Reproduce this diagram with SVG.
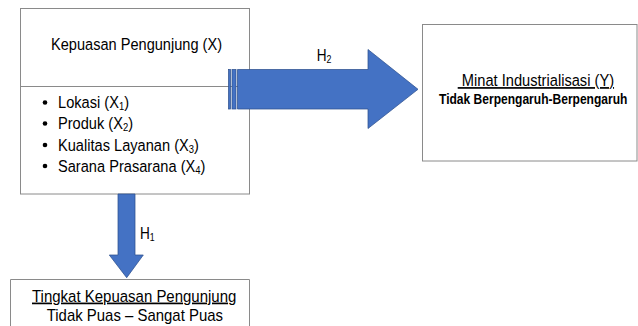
<svg xmlns="http://www.w3.org/2000/svg" width="638" height="326" viewBox="0 0 638 326">
<style>
.box{fill:#fff;stroke:#8a8a8a;stroke-width:1}
.t{font-family:"Liberation Sans",Arial,sans-serif;font-size:17px;fill:#000}
.b{font-weight:bold;font-size:14px}
.u{text-decoration:underline}
.arr{fill:#4472C4;stroke:#2F528F;stroke-width:0.75}
.sub{font-size:11px}
</style>
<rect width="638" height="326" fill="#fff"/>
<g id="node-x">
  <rect class="box" x="20.5" y="8.5" width="229" height="185.5"/>
  <line x1="20.5" y1="86.5" x2="249.5" y2="86.5" stroke="#8a8a8a" stroke-width="1"/>
  <text class="t" transform="translate(51,50) scale(0.858,1)">Kepuasan Pengunjung (X)</text>
  <circle cx="45" cy="102.5" r="2.3" fill="#000"/>
  <circle cx="45" cy="123.5" r="2.3" fill="#000"/>
  <circle cx="45" cy="145" r="2.3" fill="#000"/>
  <circle cx="45" cy="166" r="2.3" fill="#000"/>
  <text class="t" transform="translate(58,108) scale(0.86,1)">Lokasi (X<tspan class="sub" dy="2">1</tspan><tspan dy="-2">)</tspan></text>
  <text class="t" transform="translate(58,129) scale(0.86,1)">Produk (X<tspan class="sub" dy="2">2</tspan><tspan dy="-2">)</tspan></text>
  <text class="t" transform="translate(58,150.5) scale(0.86,1)">Kualitas Layanan (X<tspan class="sub" dy="2">3</tspan><tspan dy="-2">)</tspan></text>
  <text class="t" transform="translate(58,171.5) scale(0.86,1)">Sarana Prasarana (X<tspan class="sub" dy="2">4</tspan><tspan dy="-2">)</tspan></text>
</g>
<g id="node-y">
  <rect class="box" x="422.5" y="24.5" width="214.5" height="136.5"/>
  <text class="t u" transform="translate(457.7,86) scale(0.863,1)" xml:space="preserve">&#160;Minat Industrialisasi (Y)</text>
  <text class="t b" transform="translate(439,104) scale(0.861,1)">Tidak Berpengaruh-Berpengaruh</text>
</g>
<g id="node-tingkat">
  <path class="box" d="M10.5,330 V279.5 H249.5 V330"/>
  <text class="t u" transform="translate(32,301.5) scale(0.882,1)">Tingkat Kepuasan Pengunjung</text>
  <text class="t" transform="translate(46.7,320.5) scale(0.879,1)">Tidak Puas – Sangat Puas</text>
</g>
<g id="connectors">
  <g id="h2">
    <rect class="arr" x="228.5" y="69.5" width="2" height="39.5"/>
    <rect class="arr" x="232" y="69.5" width="4" height="39.5"/>
    <polygon class="arr" points="237.5,69.5 368,69.5 368,49.5 418,89.3 368,128.5 368,109 237.5,109"/>
    <text class="t" transform="translate(316.7,61) scale(0.8,1)">H<tspan class="sub" dy="2">2</tspan></text>
  </g>
  <g id="h1">
    <polygon class="arr" points="118,194 135,194 135,255 143.3,255 126.7,277.7 109.3,255 118,255"/>
    <text class="t" transform="translate(140,238.5) scale(0.8,1)">H<tspan class="sub" dy="2">1</tspan></text>
  </g>
</g>
</svg>
